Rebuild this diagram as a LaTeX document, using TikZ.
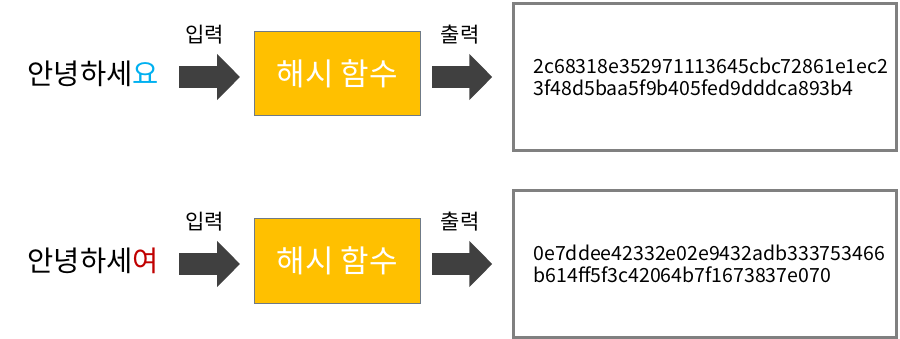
\documentclass[tikz,border=0pt]{standalone}
\usepackage{fontspec}
\setmainfont{Noto Sans CJK KR}
\usetikzlibrary{arrows.meta,positioning,calc}
\usepackage{xcolor}
\definecolor{dark}{HTML}{404040}
\definecolor{amber}{HTML}{FFC000}
\definecolor{boxline}{HTML}{6F7A86}
\definecolor{frame}{HTML}{808080}
\definecolor{sky}{HTML}{00B0F0}
\definecolor{red}{HTML}{C00000}
\tikzset{
  word/.style={inner sep=0pt,font=\fontsize{28.5}{32}\selectfont},
  hashbox/.style={draw=boxline,line width=1pt,fill=amber,text=white,minimum width=166pt,minimum height=84pt,inner sep=0pt,font=\fontsize{31}{36}\selectfont},
  digest/.style={draw=frame,line width=2.5pt,fill=white,minimum width=383pt,minimum height=147pt,inner xsep=20pt,text width=343pt,align=left,font=\fontsize{19.5}{22}\selectfont},
  tag/.style={inner sep=0pt,font=\fontsize{21}{24}\selectfont},
  block/.style={-{Triangle[length=23pt,width=45pt]},line width=22pt,draw=dark},
}
\begin{document}
\begin{tikzpicture}[x=1pt,y=-1pt]
\useasboundingbox (0,0) rectangle (900,339);
% first message
\node[word,anchor=east] (in1) at (159,74) {안녕하세\textcolor{sky}{요}};
\node[hashbox] (hash1) at (337.5,74) {해시 함수};
\node[digest] (out1) at (705,77) {2c68318e352971113645cbc72861e1ec2\\3f48d5baa5f9b405fed9dddca893b4};
% second message, one letter changed
\node[word,anchor=east] (in2) at (159,261) {안녕하세\textcolor{red}{여}};
\node[hashbox] (hash2) at (337.5,261) {해시 함수};
\node[digest] (out2) at (705,264) {0e7ddee42332e02e9432adb333753466\\b614ff5f3c42064b7f1673837e070};

\draw[block,shorten <=20pt,shorten >=14pt] ([yshift=-3pt]in1.east) -- node[tag,pos=0.48,above=22pt]{입력} ([yshift=-3pt]in1.east -| hash1.west);
\draw[block,shorten <=11pt,shorten >=20pt] ([yshift=-3pt]hash1.east) -- node[tag,pos=0.43,above=22pt]{출력} ([yshift=-3pt]hash1.east -| out1.west);
\draw[block,shorten <=20pt,shorten >=14pt] ([yshift=-3pt]in2.east) -- node[tag,pos=0.48,above=22pt]{입력} ([yshift=-3pt]in2.east -| hash2.west);
\draw[block,shorten <=11pt,shorten >=20pt] ([yshift=-3pt]hash2.east) -- node[tag,pos=0.43,above=22pt]{출력} ([yshift=-3pt]hash2.east -| out2.west);
\end{tikzpicture}
\end{document}
